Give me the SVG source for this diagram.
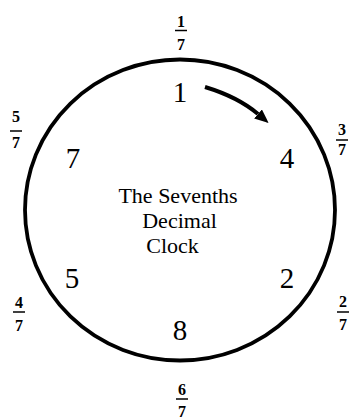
<svg xmlns="http://www.w3.org/2000/svg" width="350" height="417" viewBox="0 0 350 417">
<style>
.num{font-family:"Liberation Serif",serif;font-size:29px;text-anchor:middle;fill:#000}
.fr{font-family:"Liberation Serif",serif;font-size:16px;font-weight:bold;text-anchor:middle;fill:#000}
.t{font-family:"Liberation Serif",serif;font-size:22px;text-anchor:middle;fill:#000}
.bar{stroke:#000;stroke-width:1.5}
</style>
<defs>
<marker id="ah" viewBox="0 0 14 12" refX="0" refY="6" markerWidth="14" markerHeight="12" orient="auto" markerUnits="userSpaceOnUse">
<path d="M0,0 L14,6 L0,12 z" fill="#000"/>
</marker>
</defs>
<g id="clock"><ellipse cx="180" cy="210" rx="155" ry="150.5" fill="none" stroke="#000" stroke-width="3.8"/></g>
<g id="connectors"><path d="M205,87 Q238,97 258,114" fill="none" stroke="#000" stroke-width="4" marker-end="url(#ah)"/></g>
<g id="n1"><text class="num" x="180" y="102">1</text></g>
<g id="n4"><text class="num" x="287" y="168">4</text></g>
<g id="n2"><text class="num" x="287" y="288">2</text></g>
<g id="n8"><text class="num" x="180" y="340">8</text></g>
<g id="n5"><text class="num" x="72" y="288">5</text></g>
<g id="n7"><text class="num" x="73" y="168">7</text></g>
<g id="title"><text class="t" x="178" y="203">The Sevenths</text><text class="t" x="179.5" y="228">Decimal</text><text class="t" x="172.5" y="253">Clock</text></g>
<g id="f1"><text class="fr" x="181" y="27">1</text><line class="bar" x1="175" y1="30.5" x2="187" y2="30.5"/><text class="fr" x="181" y="50">7</text></g>
<g id="f3"><text class="fr" x="342" y="135">3</text><line class="bar" x1="336" y1="140" x2="348" y2="140"/><text class="fr" x="342" y="155">7</text></g>
<g id="f2"><text class="fr" x="343" y="307">2</text><line class="bar" x1="337" y1="312" x2="349" y2="312"/><text class="fr" x="343" y="330">7</text></g>
<g id="f6"><text class="fr" x="182" y="395">6</text><line class="bar" x1="176" y1="399" x2="188" y2="399"/><text class="fr" x="182" y="417">7</text></g>
<g id="f4"><text class="fr" x="19" y="308">4</text><line class="bar" x1="13" y1="312" x2="25" y2="312"/><text class="fr" x="19" y="331">7</text></g>
<g id="f5"><text class="fr" x="16" y="122">5</text><line class="bar" x1="10" y1="131" x2="22" y2="131"/><text class="fr" x="16" y="148">7</text></g>
</svg>
